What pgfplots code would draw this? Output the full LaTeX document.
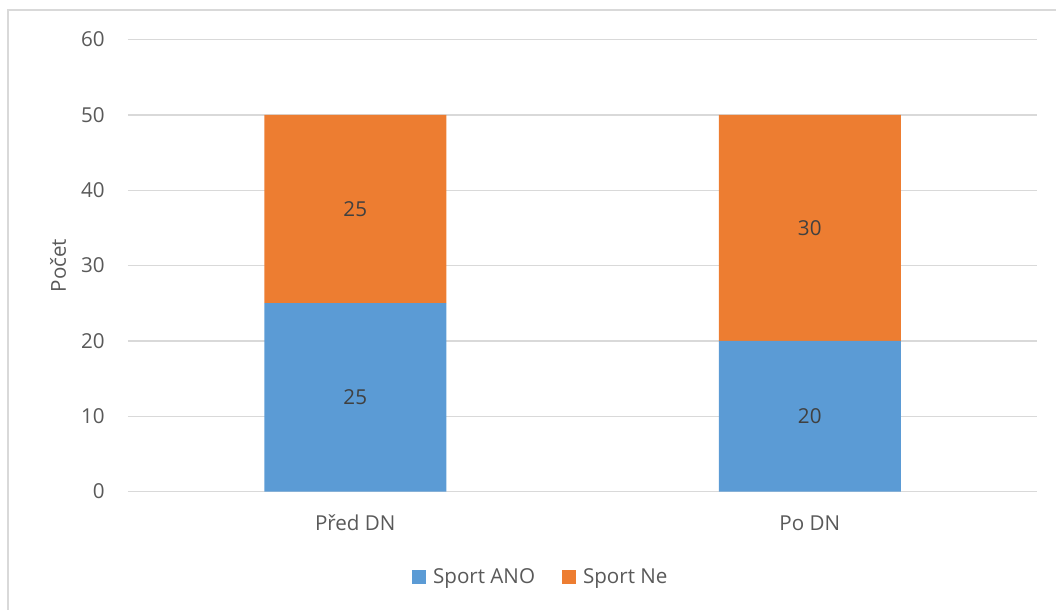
\documentclass[border=0pt]{standalone}
\usepackage{pgfplots}
\pgfplotsset{compat=1.18}
\usepackage{fontspec}
\setmainfont{Open Sans}
\definecolor{barblue}{HTML}{5B9BD5}
\definecolor{barorange}{HTML}{ED7D31}
\definecolor{gridgray}{HTML}{D9D9D9}
\definecolor{ticktext}{HTML}{595959}
\definecolor{labeltext}{HTML}{404040}
\begin{document}
\begin{tikzpicture}[font=\fontsize{15.5}{18}\selectfont]
\path[use as bounding box] (0,0) rectangle (792bp,457.5bp);
% chart frame (only left and top edges visible)
\draw[gridgray, line width=1.1bp] (6bp,0) -- (6bp,450bp) -- (792bp,450bp);
\begin{axis}[
    at={(96bp,88.875bp)}, anchor=south west,
    width=681.75bp, height=339bp, scale only axis,
    ybar stacked, bar width=136.5bp,
    xmin=-0.5, xmax=1.5, ymin=0, ymax=60,
    xtick={0,1}, xticklabels={Před DN, Po DN},
    ytick={0,10,...,60},
    ymajorgrids, grid style={gridgray, line width=1bp},
    axis line style={draw=none},
    major tick length=0pt,
    tick label style={text=ticktext},
    /pgf/number format/assume math mode=true,
    yticklabel style={anchor=east, inner sep=0pt, xshift=-17.25bp},
    xticklabel style={anchor=base, inner sep=0pt, yshift=-29.6bp},
    ylabel={Počet},
    every axis y label/.style={at={(axis description cs:0,0.5)}, rotate=90,
        anchor=center, yshift=52.5bp, text=ticktext},
    nodes near coords, point meta=rawy,
    every node near coord/.append style={anchor=center, text=labeltext},
    legend columns=2,
    legend style={at={(axis description cs:0.4543,-0.189)}, anchor=center,
        draw=none, fill=none, text=ticktext, inner sep=0pt,
        /tikz/every odd column/.append style={column sep=3.5bp},
        /tikz/every even column/.append style={column sep=18bp}},
    legend image code/.code={\fill[#1] (0bp,-5.25bp) rectangle (10.5bp,5.25bp);},
    legend cell align=left,
]
\addplot[fill=barblue, draw=none] coordinates {(0,25) (1,20)};
\addplot[fill=barorange, draw=none] coordinates {(0,25) (1,30)};
\legend{Sport ANO, Sport Ne}
\end{axis}
\end{tikzpicture}
\end{document}
